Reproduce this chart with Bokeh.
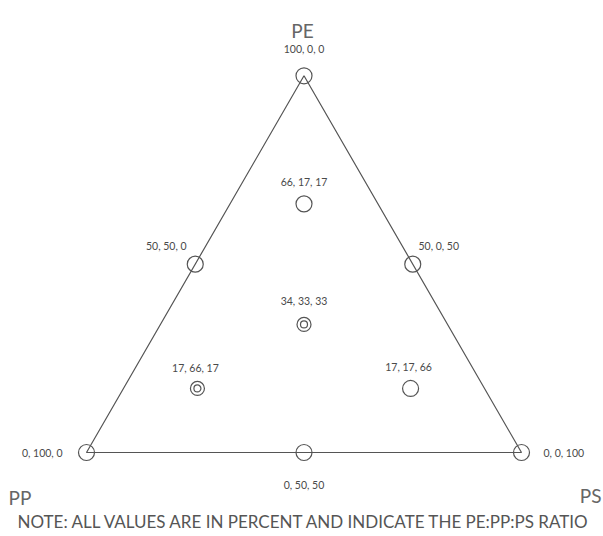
import math
from bokeh.plotting import figure
from bokeh.models import ColumnDataSource, Label
from bokeh.core.properties import value
from bokeh.embed import file_html
from bokeh.resources import INLINE

# Blend compositions, PE : PP : PS in percent
pe = [100, 66, 50, 50, 34, 17, 17, 0, 0, 0]
pp = [0, 17, 50, 0, 33, 66, 17, 100, 50, 0]
ps = [0, 17, 0, 50, 33, 17, 66, 0, 50, 100]
double_ring = [False, False, False, False, True, True, False, False, False, False]

# Label placement around each point (screen pixels, +y is downward) and alignment
lab_dx = [0, 0, -29, 26, 0, -2, -2, -24, 0, 22]
lab_dy = [-27, -22, -18, -18, -23, -20, -21, 0, 32, 0]
lab_align = ["center", "center", "center", "center", "center", "center",
             "center", "right", "center", "left"]

FONT = "Lato"
INK = "#555555"
TXT = "#4a4a4a"

H = math.sqrt(3) / 2


def to_xy(a, b, c):
    """Ternary (PE top, PP left, PS right) to Cartesian."""
    s = a + b + c
    a, b, c = a / s, b / s, c / s
    return c + a / 2.0, a * H


xs, ys = zip(*(to_xy(a, b, c) for a, b, c in zip(pe, pp, ps)))
labels = [f"{a}, {b}, {c}" for a, b, c in zip(pe, pp, ps)]

W, HT = 603, 536
scale = 435.0
left_px, bottom_px = 86.0, 84.0
p = figure(width=W, height=HT, output_backend="svg", toolbar_location=None,
           x_range=(-left_px / scale, (W - left_px) / scale),
           y_range=(-bottom_px / scale, (HT - bottom_px) / scale),
           min_border=0, background_fill_color="white", border_fill_color="white")
p.axis.visible = False
p.grid.visible = False
p.outline_line_color = None

# Triangle outline
corners = [(100, 0, 0), (0, 100, 0), (0, 0, 100), (100, 0, 0)]
tx = [to_xy(*c)[0] for c in corners]
ty = [to_xy(*c)[1] for c in corners]
p.line(tx, ty, line_color=INK, line_width=1.2)

src = ColumnDataSource(dict(x=list(xs), y=list(ys), label=labels,
                            dx=lab_dx, dy=lab_dy, align=lab_align))

single = ColumnDataSource(dict(x=[x for x, d in zip(xs, double_ring) if not d],
                               y=[y for y, d in zip(ys, double_ring) if not d]))
double = ColumnDataSource(dict(x=[x for x, d in zip(xs, double_ring) if d],
                               y=[y for y, d in zip(ys, double_ring) if d]))

p.scatter("x", "y", source=single, marker="circle", size=16,
          fill_color=None, line_color=INK, line_width=1.2)
p.scatter("x", "y", source=double, marker="circle", size=14,
          fill_color=None, line_color=INK, line_width=1.2)
p.scatter("x", "y", source=double, marker="circle", size=7,
          fill_color=None, line_color=INK, line_width=1.2)

p.text("x", "y", text="label", source=src, x_offset="dx", y_offset="dy",
       text_align="align", text_baseline="middle", text_font=value(FONT),
       text_font_size="10.5px", text_color=TXT)

# Component names at the corners
p.add_layout(Label(x=302, y=HT - 30, x_units="screen", y_units="screen", text="PE",
                   text_align="center", text_baseline="middle", text_font=FONT,
                   text_font_size="19px", text_color="#666666"))
p.add_layout(Label(x=8, y=HT - 497, x_units="screen", y_units="screen", text="PP",
                   text_align="left", text_baseline="middle", text_font=FONT,
                   text_font_size="19px", text_color="#666666"))
p.add_layout(Label(x=601, y=HT - 495, x_units="screen", y_units="screen", text="PS",
                   text_align="right", text_baseline="middle", text_font=FONT,
                   text_font_size="19px", text_color="#666666"))
p.add_layout(Label(x=304, y=HT - 521, x_units="screen", y_units="screen",
                   text="NOTE: ALL VALUES ARE IN PERCENT AND INDICATE THE PE:PP:PS RATIO",
                   text_align="center", text_baseline="middle", text_font=FONT,
                   text_font_size="17px", text_color="#555555"))

open("out.html", "w").write(file_html(p, INLINE))
